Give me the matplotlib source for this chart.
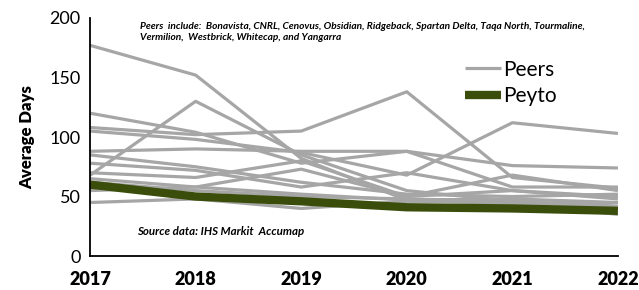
import matplotlib
matplotlib.use("Agg")
import matplotlib.pyplot as plt

years = [2017, 2018, 2019, 2020, 2021, 2022]
peers = [
    [177, 152, 82, 47, 48, 45],
    [68, 130, 85, 55, 46, 40],
    [120, 104, 78, 88, 58, 58],
    [108, 102, 105, 138, 66, 57],
    [105, 98, 87, 68, 112, 103],
    [88, 90, 88, 88, 76, 74],
    [85, 75, 62, 52, 50, 52],
    [78, 72, 58, 70, 55, 50],
    [70, 66, 80, 50, 55, 48],
    [65, 58, 73, 50, 68, 55],
    [55, 58, 52, 47, 44, 45],
    [45, 48, 40, 46, 45, 35],
    [62, 55, 50, 48, 46, 42],
]
peyto = [60, 50, 46, 41, 40, 38]
yticks = [0, 50, 100, 150, 200]

plt.rcParams['font.family'] = ['Lato', 'DejaVu Sans']
fig = plt.figure(figsize=(6.39, 2.9), dpi=100)
ax = fig.add_axes([0.141, 0.117, 0.826, 0.821])

grey = '#A6A6A6'
green = '#3A4D0B'
for i, p in enumerate(peers):
    ax.plot(years, p, color=grey, lw=2.3, solid_capstyle='butt',
            label='Peers' if i == 0 else None)
ax.plot(years, peyto, color=green, lw=6, solid_capstyle='butt', label='Peyto')

ax.set_xlim(2017, 2022)
ax.set_ylim(0, 200)
ax.set_xticks(years)
ax.set_xticklabels([str(y) for y in years], fontweight='heavy', fontsize=13)
ax.set_yticks(yticks)
ax.set_yticklabels([str(v) for v in yticks], fontsize=13)
ax.tick_params(length=0, pad=7)
ax.tick_params(axis='x', pad=11)
for s in ['top', 'right']:
    ax.spines[s].set_visible(False)
for s in ['left', 'bottom']:
    ax.spines[s].set_color('black')
    ax.spines[s].set_linewidth(1.3)
ax.set_ylabel('Average Days', fontweight='heavy', fontsize=12, labelpad=10)

ax.text(0.095, 0.985,
        'Peers  include:  Bonavista, CNRL, Cenovus, Obsidian, Ridgeback, Spartan Delta, Taqa North, Tourmaline,\n'
        'Vermilion,  Westbrick, Whitecap, and Yangarra',
        transform=ax.transAxes, fontsize=7.3, fontweight='bold', style='italic',
        va='top', ha='left', linespacing=1.3)
ax.text(0.088, 0.105, 'Source data: IHS Markit  Accumap', transform=ax.transAxes,
        fontsize=8.3, fontweight='bold', style='italic', va='center', ha='left')

leg = ax.legend(loc='upper left', bbox_to_anchor=(0.695, 0.86), frameon=False,
                fontsize=15, handlelength=1.7, handletextpad=0.1, labelspacing=0.3,
                borderaxespad=0)
fig.savefig('out.png', dpi=100)
